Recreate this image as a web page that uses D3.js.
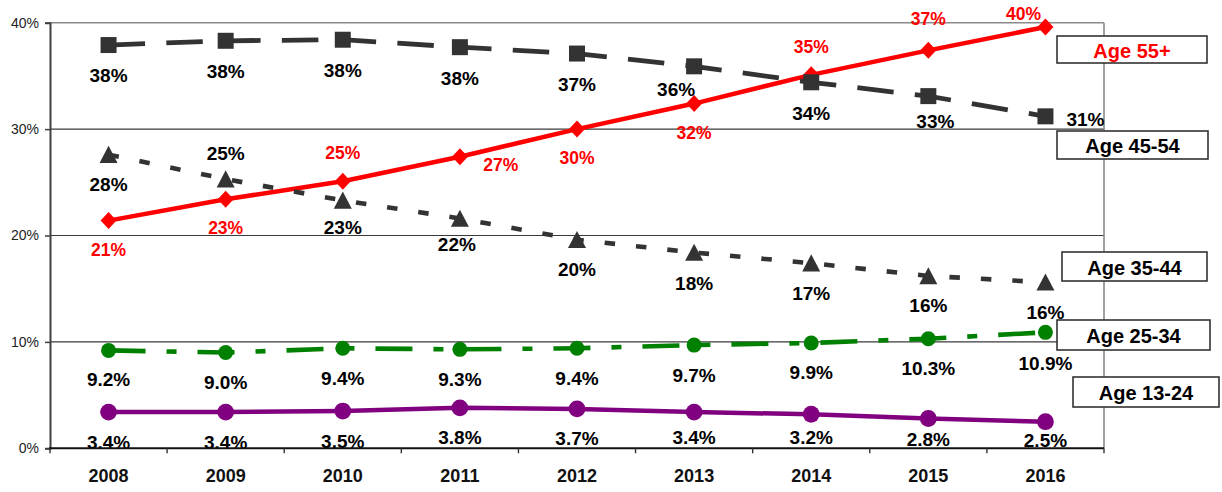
<!DOCTYPE html>
<html><head><meta charset="utf-8">
<script src="https://cdn.jsdelivr.net/npm/d3@7"></script>
<style>body{margin:0;background:#fff}svg{display:block}</style>
</head><body><svg id="c" width="1222" height="492"></svg>
<script>
// ---- data ----
const years = ["2008","2009","2010","2011","2012","2013","2014","2015","2016"];
const age55 = [21.4, 23.4, 25.1, 27.4, 30.0, 32.4, 35.1, 37.4, 39.6];
const age45 = [37.9, 38.3, 38.4, 37.7, 37.1, 35.9, 34.4, 33.1, 31.2];
const age35 = [27.6, 25.3, 23.3, 21.6, 19.6, 18.4, 17.4, 16.2, 15.6];
const age25 = [9.2, 9.0, 9.4, 9.3, 9.4, 9.7, 9.9, 10.3, 10.9];
const age13 = [3.4, 3.4, 3.5, 3.8, 3.7, 3.4, 3.2, 2.8, 2.5];
const seriesNames = ["Age 55+", "Age 45-54", "Age 35-44", "Age 25-34", "Age 13-24"];
const yTicks = [0, 10, 20, 30, 40];

// ---- label placement (offset of label centre from its point, px) ----
const off55 = [[0,29],[0,29],[0,-28],[41,8],[0,29],[0,29],[0,-28],[0,-31],[-22,-13]];
const off45 = [[0,30],[0,31],[0,31],[0,31],[0,31],[-18,23],[0,31],[7,25],[40,3]];
const off35 = [[0,30],[0,-26],[0,27],[-3,26],[0,30],[0,31],[0,30],[0,30],[0,30]];
const off25 = [[0,29],[0,30],[0,30],[0,30],[0,30],[0,30],[0,30],[0,30],[0,31]];
const off13 = [[0,30],[0,30],[0,30],[0,30],[0,30],[0,25],[0,23],[0,21],[0,19]];
const legendLayout = [
  {x:1057, y:36, w:150, h:27},
  {x:1057, y:131, w:151, h:28},
  {x:1062, y:252, w:145, h:29},
  {x:1057, y:320, w:153, h:30},
  {x:1073, y:377, w:146, h:30}
];

const FONT = "'Liberation Sans', Arial, Helvetica, sans-serif";
const svg = d3.select("#c");
const L = 50, R = 1104, T = 22.7, B = 448.3;
const x = d3.scaleBand().domain(years).range([L, R]).padding(0);
const cx = d => x(d) + x.bandwidth() / 2;
const y = d3.scaleLinear().domain([0, 40]).range([B, T]);

// gridlines
svg.append("g").selectAll("line").data(yTicks.filter(v => v > 0)).join("line")
  .attr("x1", L).attr("x2", R).attr("y1", d => y(d)).attr("y2", d => y(d))
  .attr("stroke", d => d === 40 ? "#8a8a8a" : "#3a3a3a")
  .attr("stroke-width", d => d === 40 ? 1.6 : 1.1);
// right border
svg.append("line").attr("x1", R).attr("x2", R).attr("y1", y(40)).attr("y2", y(0))
  .attr("stroke", "#8a8a8a").attr("stroke-width", 1.6);

const series = [
  {name: seriesNames[0], vals: age55, color: "#ff0000", dash: null, w: 4.5, marker: "diamond", off: off55, fmt: d3.format(".0f"), lc: "#ff0000", fs: 17.5},
  {name: seriesNames[1], vals: age45, color: "#333333", dash: "36.5,21.3", w: 4.8, marker: "square", off: off45, fmt: d3.format(".0f"), lc: "#000", fs: 19},
  {name: seriesNames[2], vals: age35, color: "#333333", dash: "10.5,21", w: 4.6, marker: "triangle", off: off35, fmt: d3.format(".0f"), lc: "#000", fs: 19},
  {name: seriesNames[3], vals: age25, color: "#008000", dash: "37,21,10,21", w: 4.6, marker: "circleS", off: off25, fmt: d3.format(".1f"), lc: "#000", fs: 19},
  {name: seriesNames[4], vals: age13, color: "#800080", dash: null, w: 4.5, marker: "circleL", off: off13, fmt: d3.format(".1f"), lc: "#000", fs: 19}
];

const markerPath = {
  diamond: "M0,-8.5L8,0L0,8.5L-8,0Z",
  square: "M-8,-8H8V8H-8Z",
  triangle: "M0,-8.8L9,8.3H-9Z",
  circleS: d3.symbol(d3.symbolCircle, Math.PI * 7.5 * 7.5)(),
  circleL: d3.symbol(d3.symbolCircle, Math.PI * 8.4 * 8.4)()
};

const line = d3.line().x((d, i) => cx(years[i])).y(d => y(d));
series.forEach(s => {
  const g = svg.append("g");
  g.append("path").attr("d", line(s.vals)).attr("fill", "none")
    .attr("stroke", s.color).attr("stroke-width", s.w)
    .attr("stroke-linejoin", "round").attr("stroke-linecap", "butt")
    .attr("stroke-dasharray", s.dash);
  g.selectAll("path.m").data(s.vals).join("path").attr("class", "m")
    .attr("d", markerPath[s.marker]).attr("fill", s.color)
    .attr("transform", (d, i) => `translate(${cx(years[i])},${y(d)})`);
});

// data labels
series.forEach(s => {
  svg.append("g").selectAll("text").data(s.vals).join("text")
    .attr("x", (d, i) => cx(years[i]) + s.off[i][0])
    .attr("y", (d, i) => y(d) + s.off[i][1])
    .attr("text-anchor", "middle").attr("dominant-baseline", "central")
    .attr("font-family", FONT).attr("font-weight", "bold").attr("font-size", s.fs)
    .attr("fill", s.lc).text(d => s.fmt(d) + "%");
});

// y axis
const ya = svg.append("g").attr("transform", `translate(${L},0)`)
  .call(d3.axisLeft(y).tickValues(yTicks).tickFormat(d => d + "%").tickSize(5).tickPadding(6));
ya.select(".domain").attr("stroke", "#404040").attr("stroke-width", 2);
ya.selectAll(".tick line").attr("stroke", "#404040").attr("stroke-width", 1.5);
ya.selectAll("text").attr("font-family", FONT).attr("font-size", 14).attr("fill", "#222");

// x axis
const xa = svg.append("g").attr("transform", `translate(0,${B})`)
  .call(d3.axisBottom(x).tickSize(0).tickPadding(21));
xa.select(".domain").remove();
xa.selectAll("text").attr("font-family", FONT).attr("font-weight", "bold").attr("font-size", 18).attr("fill", "#111");
svg.append("line").attr("x1", L - 1).attr("x2", R).attr("y1", B).attr("y2", B)
  .attr("stroke", "#111").attr("stroke-width", 2);
svg.append("g").selectAll("line").data(d3.range(years.length + 1)).join("line")
  .attr("x1", i => L + i * x.bandwidth()).attr("x2", i => L + i * x.bandwidth())
  .attr("y1", B).attr("y2", B + 5).attr("stroke", "#333").attr("stroke-width", 1.4);

// legend boxes
const lg = svg.append("g").selectAll("g").data(series).join("g")
  .attr("transform", (d, i) => `translate(${legendLayout[i].x},${legendLayout[i].y})`);
lg.append("rect").attr("width", (d, i) => legendLayout[i].w).attr("height", (d, i) => legendLayout[i].h)
  .attr("fill", "#fff").attr("stroke", "#333").attr("stroke-width", 1.6);
lg.append("text").attr("x", (d, i) => legendLayout[i].w / 2).attr("y", (d, i) => legendLayout[i].h / 2 + 1)
  .attr("text-anchor", "middle").attr("dominant-baseline", "central")
  .attr("font-family", FONT).attr("font-weight", "bold").attr("font-size", 20)
  .attr("fill", (d, i) => i === 0 ? "#ff0000" : "#000").text(d => d.name);
</script></body></html>
